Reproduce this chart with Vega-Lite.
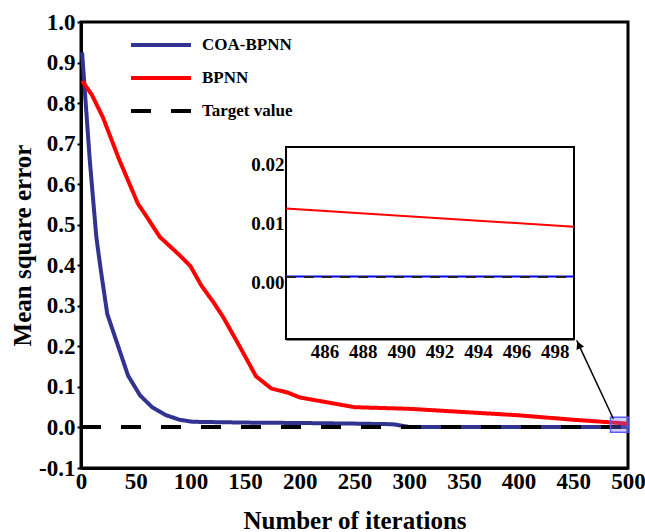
{
  "$schema": "https://vega.github.io/schema/vega-lite/v6.json",
  "width": 547,
  "height": 446,
  "autosize": {"type": "none"},
  "padding": {"left": 81, "top": 22, "right": 17, "bottom": 64},
  "background": "white",
  "datasets": {
    "mse": [
      {"series": "COA-BPNN", "iter": 1, "mse": 0.925},
      {"series": "COA-BPNN", "iter": 8, "mse": 0.66},
      {"series": "COA-BPNN", "iter": 14, "mse": 0.47},
      {"series": "COA-BPNN", "iter": 18, "mse": 0.39},
      {"series": "COA-BPNN", "iter": 24, "mse": 0.28},
      {"series": "COA-BPNN", "iter": 34, "mse": 0.2},
      {"series": "COA-BPNN", "iter": 43, "mse": 0.128},
      {"series": "COA-BPNN", "iter": 54, "mse": 0.079},
      {"series": "COA-BPNN", "iter": 65, "mse": 0.05},
      {"series": "COA-BPNN", "iter": 78, "mse": 0.03},
      {"series": "COA-BPNN", "iter": 90, "mse": 0.019},
      {"series": "COA-BPNN", "iter": 102, "mse": 0.014},
      {"series": "COA-BPNN", "iter": 150, "mse": 0.012},
      {"series": "COA-BPNN", "iter": 200, "mse": 0.011},
      {"series": "COA-BPNN", "iter": 250, "mse": 0.0095},
      {"series": "COA-BPNN", "iter": 285, "mse": 0.008},
      {"series": "COA-BPNN", "iter": 300, "mse": 0.0012},
      {"series": "COA-BPNN", "iter": 400, "mse": 0.0011},
      {"series": "COA-BPNN", "iter": 484, "mse": 0.0011},
      {"series": "COA-BPNN", "iter": 499, "mse": 0.0011},
      {"series": "COA-BPNN", "iter": 500, "mse": 0.0011},
      {"series": "BPNN", "iter": 1, "mse": 0.855},
      {"series": "BPNN", "iter": 10, "mse": 0.82},
      {"series": "BPNN", "iter": 20, "mse": 0.765},
      {"series": "BPNN", "iter": 35, "mse": 0.66},
      {"series": "BPNN", "iter": 52, "mse": 0.552},
      {"series": "BPNN", "iter": 60, "mse": 0.52},
      {"series": "BPNN", "iter": 72, "mse": 0.47},
      {"series": "BPNN", "iter": 90, "mse": 0.425},
      {"series": "BPNN", "iter": 100, "mse": 0.398},
      {"series": "BPNN", "iter": 110, "mse": 0.35},
      {"series": "BPNN", "iter": 121, "mse": 0.309},
      {"series": "BPNN", "iter": 130, "mse": 0.272},
      {"series": "BPNN", "iter": 145, "mse": 0.2},
      {"series": "BPNN", "iter": 160, "mse": 0.126},
      {"series": "BPNN", "iter": 174, "mse": 0.096},
      {"series": "BPNN", "iter": 189, "mse": 0.086},
      {"series": "BPNN", "iter": 200, "mse": 0.074},
      {"series": "BPNN", "iter": 225, "mse": 0.062},
      {"series": "BPNN", "iter": 250, "mse": 0.05},
      {"series": "BPNN", "iter": 300, "mse": 0.046},
      {"series": "BPNN", "iter": 350, "mse": 0.038},
      {"series": "BPNN", "iter": 400, "mse": 0.03},
      {"series": "BPNN", "iter": 450, "mse": 0.019},
      {"series": "BPNN", "iter": 484, "mse": 0.0126},
      {"series": "BPNN", "iter": 499, "mse": 0.0095},
      {"series": "BPNN", "iter": 500, "mse": 0.0093},
      {"series": "Target value", "iter": 0, "mse": 0.001},
      {"series": "Target value", "iter": 484, "mse": 0.001},
      {"series": "Target value", "iter": 499, "mse": 0.001},
      {"series": "Target value", "iter": 500, "mse": 0.001}
    ],
    "zoomBox": [{"x0": 484, "x1": 500, "y0": -0.0116, "y1": 0.0254}],
    "arrow": [{"x0": 486.6, "y0": 0.0215, "x1": 453.1, "y1": 0.2148, "hx": 455.0, "hy": 0.2037}],
    "insetFrame": [{"x0": 484, "x1": 499, "y0": -0.0095, "y1": 0.023}]
  },
  "config": {
    "view": {"stroke": "black", "strokeWidth": 3},
    "font": "Liberation Serif",
    "axis": {
      "grid": false,
      "labelFlush": false,
      "labelOverlap": false,
      "domainColor": "black",
      "domainWidth": 3,
      "tickColor": "black",
      "tickWidth": 2,
      "tickSize": 4,
      "labelFont": "Liberation Serif",
      "labelFontSize": 23,
      "labelFontWeight": "bold",
      "labelColor": "black",
      "titleFont": "Liberation Serif",
      "titleFontSize": 25,
      "titleFontWeight": "bold",
      "titleColor": "black"
    }
  },
  "layer": [
    {
      "layer": [
        {
          "data": {"name": "mse"},
          "transform": [{"filter": "datum.series !== 'Target value'"}],
          "mark": {"type": "line", "strokeWidth": 4},
          "encoding": {
            "x": {
              "field": "iter", "type": "quantitative",
              "scale": {"domain": [0, 500], "nice": false, "zero": false},
              "axis": {"title": "Number of iterations", "values": [0, 50, 100, 150, 200, 250, 300, 350, 400, 450, 500], "ticks": false, "labelPadding": 2, "titlePadding": 15, "orient": "bottom"}
            },
            "y": {
              "field": "mse", "type": "quantitative",
              "scale": {"domain": [-0.1, 1.0], "nice": false, "zero": false},
              "axis": {"title": "Mean square error", "values": [-0.1, 0, 0.1, 0.2, 0.3, 0.4, 0.5, 0.6, 0.7, 0.8, 0.9, 1.0], "format": ".1f", "labelExpr": "replace(datum.label, '\u2212', '-')", "labelPadding": 2, "titlePadding": 3, "orient": "left"}
            },
            "color": {
              "field": "series", "type": "nominal",
              "scale": {"domain": ["COA-BPNN", "BPNN", "Target value"], "range": ["#30338f", "#ff0000", "#000000"]},
              "legend": {
                "orient": "none", "legendX": 48, "legendY": 13, "title": null,
                "symbolType": "stroke", "symbolSize": 3600, "symbolStrokeWidth": 4,
                "labelFont": "Liberation Serif", "labelFontSize": 17, "labelFontWeight": "bold", "labelColor": "black",
                "labelOffset": 9, "clipHeight": 20, "rowPadding": 13
              }
            },
            "strokeDash": {
              "field": "series", "type": "nominal",
              "scale": {"domain": ["COA-BPNN", "BPNN", "Target value"], "range": [[1, 0], [1, 0], [20, 20]]},
              "legend": {
                "orient": "none", "legendX": 48, "legendY": 13, "title": null,
                "symbolType": "stroke", "symbolSize": 3600, "symbolStrokeWidth": 4,
                "labelFont": "Liberation Serif", "labelFontSize": 17, "labelFontWeight": "bold", "labelColor": "black",
                "labelOffset": 9, "clipHeight": 20, "rowPadding": 13
              }
            },
            "order": {"field": "iter", "type": "quantitative"}
          }
        },
        {
          "data": {"name": "mse"},
          "transform": [{"filter": "datum.series === 'Target value'"}],
          "mark": {"type": "line", "strokeWidth": 4},
          "encoding": {
            "x": {"field": "iter", "type": "quantitative"},
            "y": {"field": "mse", "type": "quantitative"},
            "color": {"field": "series", "type": "nominal"},
            "strokeDash": {"field": "series", "type": "nominal"},
            "order": {"field": "iter", "type": "quantitative"}
          }
        },
        {
          "data": {"name": "zoomBox"},
          "mark": {"type": "rect", "fill": "#6f6fff", "fillOpacity": 0.35, "stroke": "#5a5aff", "strokeWidth": 1.5},
          "encoding": {
            "x": {"field": "x0", "type": "quantitative"},
            "x2": {"field": "x1"},
            "y": {"field": "y0", "type": "quantitative"},
            "y2": {"field": "y1"}
          }
        },
        {
          "data": {"name": "arrow"},
          "mark": {"type": "rule", "color": "black", "strokeWidth": 1.5},
          "encoding": {
            "x": {"field": "x0", "type": "quantitative"},
            "y": {"field": "y0", "type": "quantitative"},
            "x2": {"field": "x1"},
            "y2": {"field": "y1"}
          }
        },
        {
          "data": {"name": "arrow"},
          "mark": {"type": "point", "shape": "triangle-up", "filled": true, "color": "black", "size": 70, "angle": 335, "opacity": 1},
          "encoding": {
            "x": {"field": "hx", "type": "quantitative"},
            "y": {"field": "hy", "type": "quantitative"}
          }
        }
      ]
    },
    {
      "layer": [
        {
          "data": {"name": "insetFrame"},
          "mark": {"type": "rect", "fill": "white", "stroke": "black", "strokeWidth": 2},
          "encoding": {
            "x": {
              "field": "x0", "type": "quantitative",
              "scale": {"domain": [484, 499], "range": [205, 493], "nice": false, "zero": false},
              "axis": {"title": null, "orient": "bottom", "offset": -129, "values": [486, 488, 490, 492, 494, 496, 498], "ticks": false, "domainWidth": 2, "labelFontSize": 19, "labelPadding": 3}
            },
            "x2": {"field": "x1"},
            "y": {
              "field": "y0", "type": "quantitative",
              "scale": {"domain": [-0.0095, 0.023], "range": [317, 125], "nice": false, "zero": false},
              "axis": {"title": null, "orient": "left", "offset": -205, "values": [0, 0.01, 0.02], "format": ".2f", "ticks": false, "domainWidth": 2, "labelFontSize": 19, "labelPadding": 2}
            },
            "y2": {"field": "y1"}
          }
        },
        {
          "data": {"name": "mse"},
          "transform": [{"filter": "datum.series === 'BPNN' && datum.iter >= 484 && datum.iter <= 499"}],
          "mark": {"type": "line", "strokeWidth": 2, "color": "#ff0000"},
          "encoding": {
            "x": {"field": "iter", "type": "quantitative"},
            "y": {"field": "mse", "type": "quantitative"}
          }
        },
        {
          "data": {"name": "mse"},
          "transform": [{"filter": "datum.series === 'COA-BPNN' && datum.iter >= 484 && datum.iter <= 499"}],
          "mark": {"type": "line", "strokeWidth": 2, "color": "#0000ff"},
          "encoding": {
            "x": {"field": "iter", "type": "quantitative"},
            "y": {"field": "mse", "type": "quantitative"}
          }
        },
        {
          "data": {"name": "mse"},
          "transform": [{"filter": "datum.series === 'Target value' && datum.iter >= 484 && datum.iter <= 499"}],
          "mark": {"type": "line", "strokeWidth": 2, "color": "#222222", "strokeDash": [10, 8]},
          "encoding": {
            "x": {"field": "iter", "type": "quantitative"},
            "y": {"field": "mse", "type": "quantitative"}
          }
        }
      ]
    }
  ],
  "resolve": {"scale": {"x": "independent", "y": "independent"}, "axis": {"x": "independent", "y": "independent"}}
}
